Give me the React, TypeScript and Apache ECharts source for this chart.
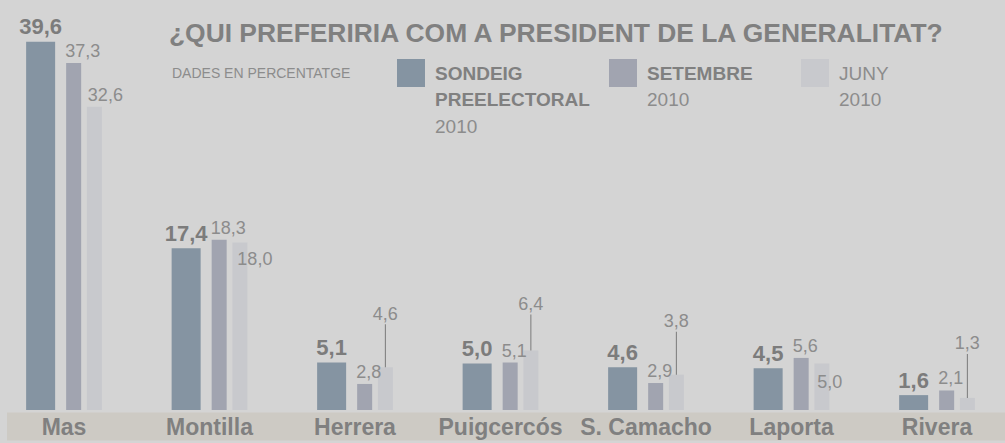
import React, { useEffect, useRef } from "react";
import * as echarts from "echarts";

const categories = ["Mas", "Montilla", "Herrera", "Puigcercós", "S. Camacho", "Laporta", "Rivera"];
const sondeig = [39.6, 17.4, 5.1, 5.0, 4.6, 4.5, 1.6];
const setembre = [37.3, 18.3, 2.8, 5.1, 2.9, 5.6, 2.1];
const juny = [32.6, 18.0, 4.6, 6.4, 3.8, 5.0, 1.3];
const seriesNames = ["SONDEIG PREELECTORAL 2010", "SETEMBRE 2010", "JUNY 2010"];
const legendLines = [
  [["SONDEIG", true], ["PREELECTORAL", true], ["2010", false]],
  [["SETEMBRE", true], ["2010", false]],
  [["JUNY", false], ["2010", false]],
];
const titleText = "¿QUI PREFERIRIA COM A PRESIDENT DE LA GENERALITAT?";
const subtitleText = "DADES EN PERCENTATGE";

// styling (not data)
const FONT = '"Liberation Sans", Arial, Helvetica, sans-serif';
const colors = ["#8594a2", "#a1a4b0", "#c8c9cd"];
const boldGray = "#7c7c7c";
const lightGray = "#8c8c8c";
const juneLeader: Record<string, number> = { Herrera: 43, "Puigcercós": 36, "S. Camacho": 43, Rivera: 44 };
const juneInside: Record<string, number[]> = { Montilla: [5, 7], Laporta: [3, 9] };

const fmt = (v: number) => v.toFixed(1).replace(".", ",");

function juneLabel(cat: string, v: number): any {
  if (juneLeader[cat]) {
    return {
      show: true,
      position: "top",
      distance: 0,
      formatter: `{v|${fmt(v)}}\n{l| }`,
      rich: {
        v: { fontSize: 18, color: lightGray, fontFamily: FONT, lineHeight: 21, align: "center" },
        l: { width: 1, height: juneLeader[cat], lineHeight: juneLeader[cat], backgroundColor: "#7a7a7a", fontSize: 1, align: "center" },
      },
    };
  }
  if (juneInside[cat]) {
    return {
      show: true,
      position: juneInside[cat],
      align: "left",
      verticalAlign: "top",
      fontSize: 18,
      color: lightGray,
      fontFamily: FONT,
      formatter: () => fmt(v),
    };
  }
  return {
    show: true,
    position: [1, -3],
    align: "left",
    verticalAlign: "bottom",
    fontSize: 18,
    color: lightGray,
    fontFamily: FONT,
    formatter: () => fmt(v),
  };
}

export default function App() {
  const ref = useRef<HTMLDivElement>(null);
  useEffect(() => {
    document.body.style.margin = "0";
    const chart = echarts.init(ref.current!, null, { renderer: "svg" });
    const graphics: any[] = [
      { type: "rect", z: -10, shape: { x: 7, y: 412.5, width: 998, height: 28 }, style: { fill: "#cdcac4" } },
      {
        type: "text", x: 169, y: 33,
        style: { text: titleText, fill: "#808080", fontSize: 26.4, fontWeight: "bold", fontFamily: FONT, verticalAlign: "middle" },
      },
      {
        type: "text", x: 172, y: 73,
        style: { text: subtitleText, fill: lightGray, fontSize: 14, fontFamily: FONT, verticalAlign: "middle" },
      },
    ];
    const sqX = [397, 609, 801];
    legendLines.forEach((lines, i) => {
      graphics.push({ type: "rect", shape: { x: sqX[i], y: 59, width: 28, height: 28 }, style: { fill: colors[i] } });
      lines.forEach((ln, k) => {
        graphics.push({
          type: "text", x: sqX[i] + 38, y: 73 + 26.7 * k,
          style: {
            text: ln[0] as string,
            fill: ln[1] ? "#808080" : lightGray,
            fontSize: 19,
            fontWeight: ln[1] ? "bold" : "normal",
            fontFamily: FONT,
            verticalAlign: "middle",
          },
        });
      });
    });

    chart.setOption({
      animation: false,
      backgroundColor: "#d4d4d4",
      grid: { left: 64, right: 68, top: 38, bottom: 33 },
      xAxis: {
        type: "category",
        data: categories,
        boundaryGap: false,
        axisLine: { show: false },
        axisTick: { show: false },
        splitLine: { show: false },
        axisLabel: { interval: 0, margin: 5, fontSize: 23, fontWeight: "bold", color: "#808080", fontFamily: FONT },
      },
      yAxis: { type: "value", min: 0, max: 40, show: false, splitLine: { show: false } },
      graphic: graphics,
      series: [
        {
          name: seriesNames[0], type: "bar", data: sondeig, barWidth: 29, barGap: "38%", clip: false,
          itemStyle: { color: colors[0] },
          label: {
            show: true, position: "top", distance: 4, fontSize: 22, fontWeight: "bold", color: boldGray, fontFamily: FONT,
            formatter: (p: any) => fmt(p.value),
          },
        },
        {
          name: seriesNames[1], type: "bar", data: setembre, barWidth: 15, barGap: "38%", clip: false,
          itemStyle: { color: colors[1] },
          label: {
            show: true, position: [-1, -3], align: "left", verticalAlign: "bottom", fontSize: 18, color: lightGray, fontFamily: FONT,
            formatter: (p: any) => fmt(p.value),
          },
        },
        {
          name: seriesNames[2], type: "bar", barWidth: 15, barGap: "38%", clip: false,
          itemStyle: { color: colors[2] },
          data: juny.map((v, i) => ({ value: v, label: juneLabel(categories[i], v) })),
        },
      ],
    });
    return () => chart.dispose();
  }, []);
  return <div ref={ref} style={{ width: 1005, height: 443, position: "absolute", left: 0, top: 0 }} />;
}
